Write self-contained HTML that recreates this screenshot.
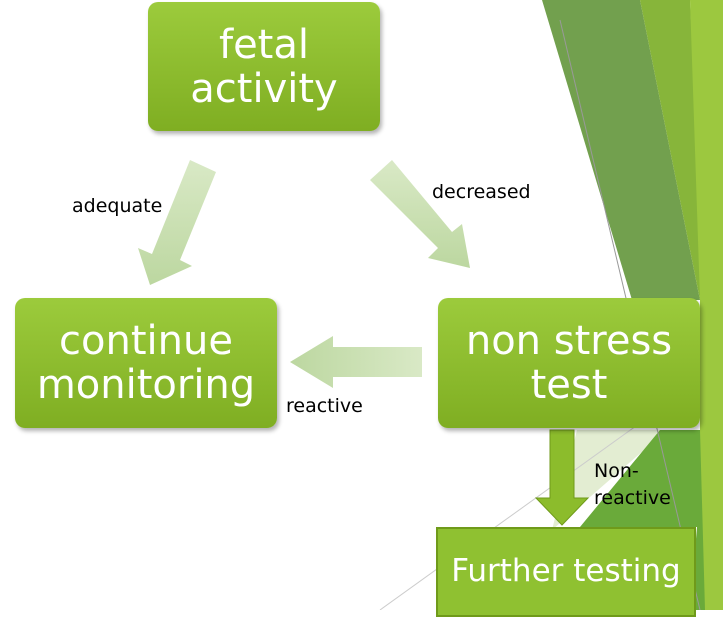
<!DOCTYPE html>
<html><head><style>
body{margin:0;width:723px;height:610px;overflow:hidden;background:#fff;position:relative;font-family:"DejaVu Sans","Liberation Sans",sans-serif}
.box{position:absolute;border-radius:10px;background:linear-gradient(#9ccb3c,#7fae22);color:#fff;text-align:center;display:flex;align-items:center;justify-content:center;line-height:1.1;box-shadow:2px 3px 4px rgba(0,0,0,.3)}
.lbl{position:absolute;font-size:19px;color:#000}
</style></head><body>
<svg width="723" height="610" style="position:absolute;left:0;top:0">
<defs>
<linearGradient id="ga" x1="0" y1="0" x2="0" y2="1"><stop offset="0" stop-color="#d9e9c6"/><stop offset="1" stop-color="#bcd7a0"/></linearGradient>
<linearGradient id="gb" x1="1" y1="0" x2="0" y2="0"><stop offset="0" stop-color="#d9e9c6"/><stop offset="1" stop-color="#bcd7a0"/></linearGradient>
</defs>
<polygon points="542,0 640,0 700,300 632,300" fill="#72a04e"/>
<polygon points="640,0 690,0 705,300 700,300" fill="#87b53a"/>
<polygon points="690,0 723,0 723,610 700,610 700,300" fill="#9cc83f"/>
<polygon points="577,430 667,430 552,530" fill="#e3edd2"/>
<polygon points="660,430 700,430 705,610 690,610 697,527 580,527" fill="#6aaa3a"/>
<line x1="560" y1="20" x2="700" y2="610" stroke="#999" stroke-width="1"/>
<line x1="380" y1="610" x2="700" y2="380" stroke="#ccc" stroke-width="1"/>
<polygon points="190,160 216,172 180,260 192,266 150,285 138,248 152,254" fill="url(#ga)"/>
<polygon points="370,180 392,160 452,232 462,224 470,268 428,258 438,248" fill="url(#ga)"/>
<polygon points="422,347 333,347 333,336 290,362 333,388 333,377 422,377" fill="url(#gb)"/>
<polygon points="550,430 574,430 574,498 588,498 562,525 536,498 550,498" fill="#8cbc2c" stroke="#6f9a1a"/>
</svg>
<div class="box" style="left:148px;top:2px;width:232px;height:129px;font-size:40px">fetal<br>activity</div>
<div class="box" style="left:15px;top:298px;width:262px;height:130px;font-size:40px">continue<br>monitoring</div>
<div class="box" style="left:438px;top:298px;width:262px;height:130px;font-size:40px">non stress<br>test</div>
<div class="box" style="left:436px;top:527px;width:260px;height:90px;border-radius:0;border:2px solid #6f9a1a;background:#8fc131;box-shadow:none;font-size:31px;align-items:flex-start;box-sizing:border-box"><span style="margin-top:25px">Further testing</span></div>
<div class="lbl" style="left:72px;top:195px">adequate</div>
<div class="lbl" style="left:432px;top:181px">decreased</div>
<div class="lbl" style="left:286px;top:395px">reactive</div>
<div class="lbl" style="left:594px;top:458px;line-height:27px">Non-<br>reactive</div>
</body></html>
